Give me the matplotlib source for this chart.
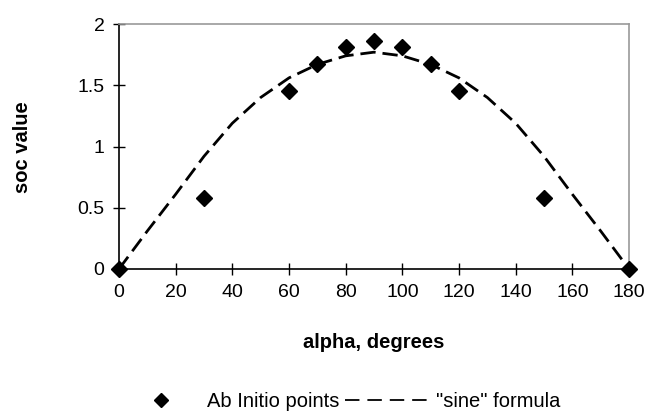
import matplotlib
matplotlib.use("Agg")
import matplotlib.pyplot as plt
from matplotlib.lines import Line2D

plt.rcParams['font.family'] = ['Liberation Sans', 'DejaVu Sans']

# Ab initio points
pts_x = [0, 30, 60, 70, 80, 90, 100, 110, 120, 150, 180]
pts_y = [0, 0.58, 1.45, 1.67, 1.81, 1.86, 1.81, 1.67, 1.45, 0.58, 0]

# "sine" formula curve (read every 10 degrees)
sine_x = [0, 10, 20, 30, 40, 50, 60, 70, 80, 90, 100, 110, 120, 130, 140, 150, 160, 170, 180]
sine_y = [0, 0.31, 0.61, 0.92, 1.19, 1.40, 1.56, 1.67, 1.74, 1.77, 1.74, 1.67, 1.56, 1.40, 1.19, 0.92, 0.61, 0.31, 0]

xticks = [0, 20, 40, 60, 80, 100, 120, 140, 160, 180]
yticks = [0, 0.5, 1, 1.5, 2]
yticklabels = ['0', '0.5', '1', '1.5', '2']

fig = plt.figure(figsize=(6.48, 4.11), dpi=100)
ax = fig.add_axes([0.1836, 0.3455, 0.7871, 0.5961])

ax.plot(sine_x, sine_y, color='black', linestyle=(0, (5.5, 2.5)), linewidth=2.0, zorder=2)
ax.plot(pts_x, pts_y, linestyle='none', marker='D', markersize=8, color='black', zorder=3, clip_on=False)

ax.set_xlim(0, 180)
ax.set_ylim(0, 2)
ax.set_xticks(xticks)
ax.set_yticks(yticks)
ax.set_yticklabels(yticklabels)
ax.tick_params(direction='inout', length=9, width=1, labelsize=14, colors='black', pad=6)

for s in ['left', 'bottom']:
    ax.spines[s].set_color('black')
    ax.spines[s].set_linewidth(1.2)
for s in ['top', 'right']:
    ax.spines[s].set_color('#999999')
    ax.spines[s].set_linewidth(1.2)

ax.set_xlabel('alpha, degrees', fontsize=14.5, fontweight='bold')
ax.set_ylabel('soc value', fontsize=14.5, fontweight='bold')
ax.xaxis.set_label_coords(0.5, -0.298)
ax.xaxis.label.set_va('center')
ax.yaxis.set_label_coords(-0.19, 0.498)
ax.yaxis.label.set_va('center')

handles = [
    Line2D([], [], linestyle='none', marker='D', markersize=7.5, color='black'),
    Line2D([], [], color='black', linestyle=(0, (8, 4.4)), linewidth=1.3),
]
fig.legend(handles, ['Ab Initio points', '"sine" formula'], loc='center',
           bbox_to_anchor=(0.522, 0.022), ncol=2, frameon=False, fontsize=14.5,
           handlelength=4.4, columnspacing=0.3, handletextpad=0.1,
           borderpad=0, borderaxespad=0)

fig.savefig('out.png', dpi=100)
